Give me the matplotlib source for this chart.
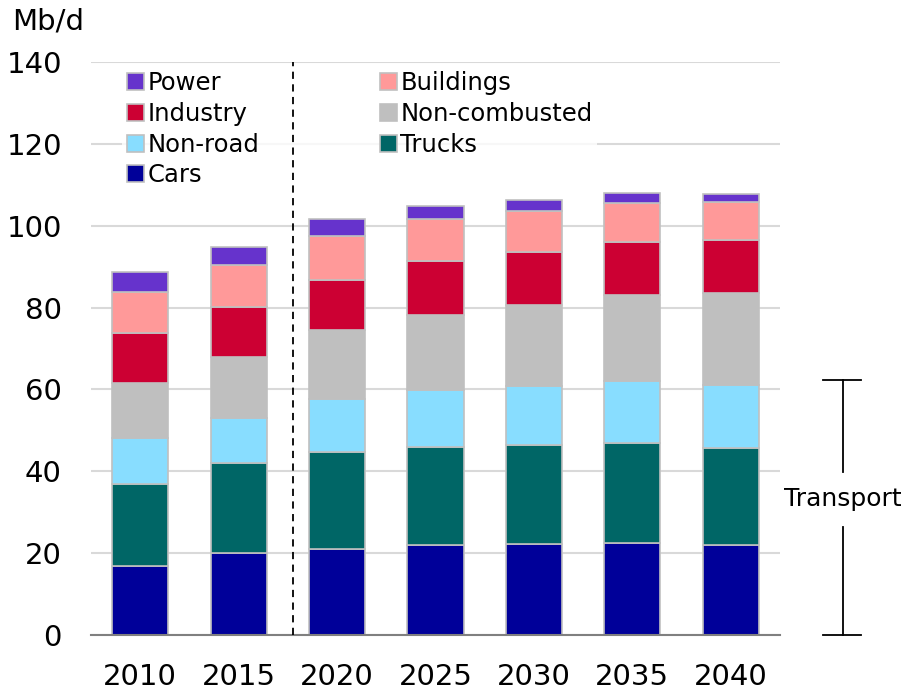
import matplotlib
matplotlib.use("Agg")
import matplotlib.pyplot as plt
import numpy as np
from matplotlib.patches import Patch

plt.rcParams['font.family'] = ['DejaVu Sans']

years = ["2010", "2015", "2020", "2025", "2030", "2035", "2040"]
cars = [16.9, 20.0, 21.0, 21.9, 22.2, 22.6, 22.1]
trucks = [20.0, 22.0, 23.7, 24.0, 24.3, 24.4, 23.6]
non_road = [11.3, 11.1, 12.9, 14.0, 14.4, 15.0, 15.5]
non_combusted = [13.3, 14.8, 17.0, 18.4, 19.7, 21.0, 22.3]
industry = [12.4, 12.2, 12.2, 13.1, 13.0, 12.9, 13.1]
buildings = [10.0, 10.3, 10.8, 10.2, 10.1, 9.6, 9.1]
power = [4.7, 4.5, 4.0, 3.3, 2.7, 2.5, 2.1]

series = [
    ("Cars", cars, "#000099"),
    ("Trucks", trucks, "#006666"),
    ("Non-road", non_road, "#88ddff"),
    ("Non-combusted", non_combusted, "#bfbfbf"),
    ("Industry", industry, "#cc0033"),
    ("Buildings", buildings, "#ff9999"),
    ("Power", power, "#6633cc"),
]
legend_order = ["Power", "Industry", "Non-road", "Cars", "Buildings", "Non-combusted", "Trucks"]

fig = plt.figure(figsize=(9.08, 6.91), dpi=100)
ax = fig.add_axes([91/908, 1-635/691, 689/908, 573/691])

x = np.arange(len(years))
bottom = np.zeros(len(years))
handles = {}
for name, vals, col in series:
    ax.bar(x, vals, bottom=bottom, width=0.57, color=col, edgecolor="#c0c0c0",
           linewidth=1.2, zorder=3)
    handles[name] = Patch(facecolor=col, edgecolor="#c0c0c0", linewidth=1.2, label=name)
    bottom += np.array(vals)

ax.set_xlim(-0.5, 6.5)
ax.set_ylim(0, 140)
ax.set_yticks(np.arange(0, 141, 20))
ax.set_xticks(x)
ax.set_xticklabels(years)
ax.tick_params(axis='both', length=0, labelsize=21, colors="#000000")
ax.tick_params(axis='y', pad=21)
ax.tick_params(axis='x', pad=20)
ax.grid(axis='y', color="#d9d9d9", linewidth=1.5, zorder=0)
for s in ["left", "right", "top"]:
    ax.spines[s].set_visible(False)
ax.spines["bottom"].set_color("#808080")
ax.spines["bottom"].set_linewidth(1.5)
ax.spines["bottom"].set_zorder(4)

ax.axvline(1.55, color="black", linestyle=(0, (4, 3)), linewidth=1.3, zorder=6)

leg = ax.legend([handles[n] for n in legend_order], legend_order, ncol=2,
                loc="upper left", bbox_to_anchor=(0.045, 0.992), frameon=True,
                fontsize=17.5, handlelength=0.7, handleheight=0.7,
                handletextpad=0.15, labelspacing=0.27, columnspacing=4.95,
                borderaxespad=0, borderpad=0.2)
leg.get_frame().set_facecolor("white")
leg.get_frame().set_edgecolor("white")
leg.get_frame().set_linewidth(0)

fig.text(12/908, 1-22/691, "Mb/d", fontsize=21, va="center", ha="left")

# Transport bracket
bx = 7.14
ax.plot([bx, bx], [39.9, 62.3], color="black", lw=1.3, clip_on=False)
ax.plot([bx, bx], [0, 26.4], color="black", lw=1.3, clip_on=False)
ax.plot([6.94, 7.32], [62.3, 62.3], color="black", lw=1.3, clip_on=False)
ax.plot([6.94, 7.32], [0, 0], color="black", lw=1.3, clip_on=False)
ax.text(bx, 33.2, "Transport", fontsize=18, ha="center", va="center", clip_on=False)

fig.savefig("out.png", dpi=100)
